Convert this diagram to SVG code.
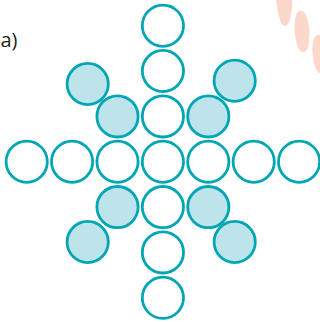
<svg xmlns="http://www.w3.org/2000/svg" width="320" height="322" viewBox="0 0 320 322">
<style>
.c{fill:#ffffff;stroke:#00a6b4;stroke-width:2.8}
.f{fill:#bde4ea;stroke:#00a6b4;stroke-width:2.8}
.deco{fill:#fcd8ca}
.lbl{font-family:"Open Sans","Liberation Sans",sans-serif;font-size:20px;fill:#231f20}
</style>
<g id="decoration">
<path class="deco" d="M276,0 L292,0 C293,8 291,16 289,22 C287,27 283,27 281,23 C279,17 277,8 276,0 Z"/>
<path class="deco" d="M297,13 C300,9 304,11 306,15 C309,22 310,30 309,38 C309,46 308,52 303,52 C299,52 297,46 296,40 C294,32 294,20 297,13 Z"/>
<path class="deco" d="M314,38 C316,34 320,35 320,35 L320,73 C317,73 314,66 313,58 C312,50 312,43 314,38 Z"/>
</g>
<text id="label" class="lbl" x="0.5" y="47">a)</text>
<g id="connectors"></g>
<g id="n-v0"><circle class="c" cx="162.9" cy="25.7" r="20.6"/></g>
<g id="n-v1"><circle class="c" cx="162.9" cy="71.0" r="20.6"/></g>
<g id="n-v2"><circle class="c" cx="162.9" cy="116.4" r="20.6"/></g>
<g id="n-v4"><circle class="c" cx="162.9" cy="207.1" r="20.6"/></g>
<g id="n-v5"><circle class="c" cx="162.9" cy="252.4" r="20.6"/></g>
<g id="n-v6"><circle class="c" cx="162.9" cy="297.8" r="20.6"/></g>
<g id="n-h0"><circle class="c" cx="26.7" cy="161.7" r="20.6"/></g>
<g id="n-h1"><circle class="c" cx="72.1" cy="161.7" r="20.6"/></g>
<g id="n-h2"><circle class="c" cx="117.5" cy="161.7" r="20.6"/></g>
<g id="n-h3"><circle class="c" cx="162.9" cy="161.7" r="20.6"/></g>
<g id="n-h4"><circle class="c" cx="208.3" cy="161.7" r="20.6"/></g>
<g id="n-h5"><circle class="c" cx="253.7" cy="161.7" r="20.6"/></g>
<g id="n-h6"><circle class="c" cx="299.1" cy="161.7" r="20.6"/></g>
<g id="n-d-tl-out"><circle class="f" cx="87.7" cy="84" r="20.6"/></g>
<g id="n-d-tr-out"><circle class="f" cx="234.7" cy="80.7" r="20.6"/></g>
<g id="n-d-bl-out"><circle class="f" cx="87.7" cy="242" r="20.6"/></g>
<g id="n-d-br-out"><circle class="f" cx="234.7" cy="242" r="20.6"/></g>
<g id="n-d-tl-in"><circle class="f" cx="117.5" cy="116.4" r="20.6"/></g>
<g id="n-d-tr-in"><circle class="f" cx="208.3" cy="116.4" r="20.6"/></g>
<g id="n-d-bl-in"><circle class="f" cx="117.5" cy="207.1" r="20.6"/></g>
<g id="n-d-br-in"><circle class="f" cx="208.3" cy="207.1" r="20.6"/></g>
</svg>
